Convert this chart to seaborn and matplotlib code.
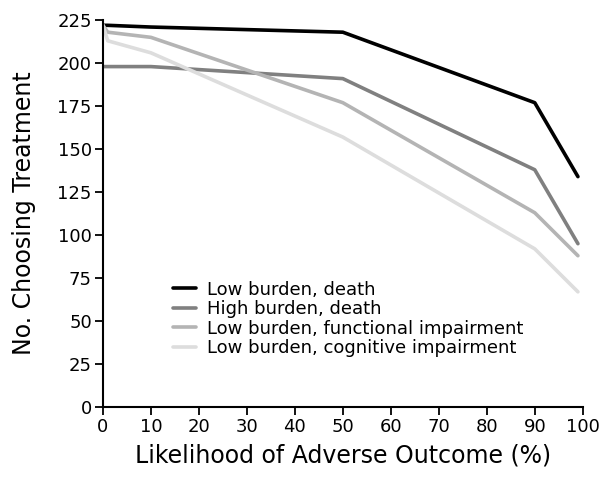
import numpy as np
import pandas as pd
import matplotlib
matplotlib.use("Agg")
import matplotlib.pyplot as plt
import seaborn as sns

# likelihood of adverse outcome (%)
likelihood = [0, 1, 10, 50, 90, 99]

low_death = [222, 222, 221, 218, 177, 134]
high_death = [198, 198, 198, 191, 138, 95]
low_functional = [222, 218, 215, 177, 113, 88]
low_cognitive = [222, 213, 206, 157, 92, 67]

series_names = ["Low burden, death", "High burden, death",
                "Low burden, functional impairment", "Low burden, cognitive impairment"]
series_vals = [low_death, high_death, low_functional, low_cognitive]
colors = ["#000000", "#808080", "#b4b4b4", "#dddddd"]

rows = []
for name, vals in zip(series_names, series_vals):
    for x, y in zip(likelihood, vals):
        rows.append({"Likelihood": x, "Count": y, "Group": name})
df = pd.DataFrame(rows)

sns.set_style("ticks")
plt.rcParams["font.family"] = ["DejaVu Sans"]
plt.rcParams["text.color"] = "black"
plt.rcParams["axes.labelcolor"] = "black"

fig = plt.figure(figsize=(6.02, 4.8), dpi=100)
ax = fig.add_axes([0.171, 0.152, 0.797, 0.806])

sns.lineplot(data=df, x="Likelihood", y="Count", hue="Group", hue_order=series_names,
             palette=colors, linewidth=2.6, ax=ax)

ax.set_xlim(0, 100)
ax.set_ylim(0, 225)
ax.set_xticks(range(0, 101, 10))
ax.set_yticks(range(0, 226, 25))
ax.tick_params(labelsize=13, length=6, width=1.3, colors="black", direction="out", pad=2)
for s in ["left", "bottom"]:
    ax.spines[s].set_linewidth(1.5)
    ax.spines[s].set_color("black")
sns.despine(ax=ax)

ax.set_xlabel("Likelihood of Adverse Outcome (%)", fontsize=17, labelpad=5)
ax.set_ylabel("No. Choosing Treatment", fontsize=17, labelpad=15)

ax.legend(loc="upper left", bbox_to_anchor=(0.13, 0.345), frameon=False, fontsize=13,
          handlelength=1.3, handletextpad=0.6, labelspacing=0.08, borderaxespad=0)

fig.savefig("out.png", dpi=100)
